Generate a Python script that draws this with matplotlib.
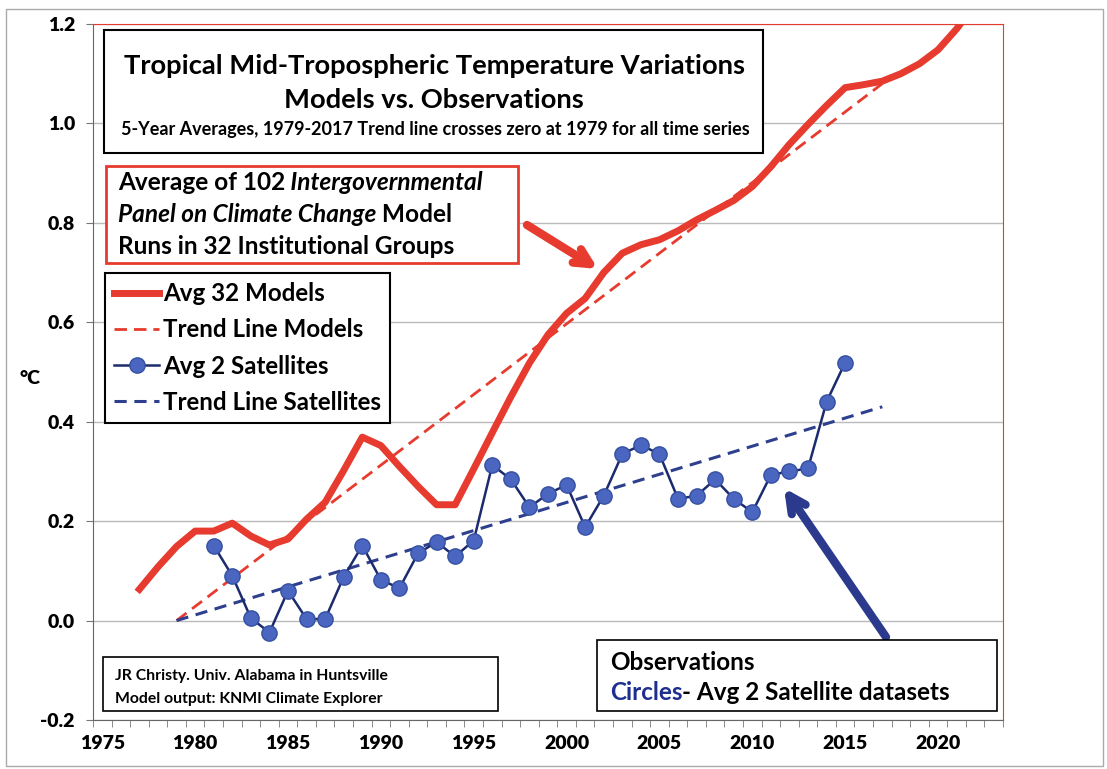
import matplotlib.pyplot as plt
from matplotlib.patches import Rectangle
from matplotlib.lines import Line2D
import numpy as np

plt.rcParams['font.family'] = ['Lato', 'DejaVu Sans']

W, H = 1107, 769

# 5-year averages
model_years = list(range(1977, 2023))
model_vals = [0.063, 0.108, 0.149, 0.180, 0.180, 0.196, 0.170, 0.152, 0.164, 0.204,
              0.238, 0.302, 0.369, 0.352, 0.310, 0.270, 0.233, 0.233, 0.305, 0.378,
              0.450, 0.518, 0.575, 0.618, 0.648, 0.700, 0.739, 0.756, 0.766, 0.784,
              0.806, 0.825, 0.845, 0.873, 0.913, 0.958, 0.998, 1.036, 1.072, 1.078,
              1.085, 1.100, 1.120, 1.148, 1.190, 1.240]

sat_years = list(range(1981, 2016))
sat_vals = [0.151, 0.090, 0.005, -0.024, 0.060, 0.003, 0.003, 0.088, 0.151, 0.082,
            0.065, 0.135, 0.158, 0.129, 0.161, 0.313, 0.284, 0.228, 0.255, 0.273,
            0.188, 0.251, 0.335, 0.353, 0.335, 0.245, 0.251, 0.284, 0.245, 0.218,
            0.293, 0.300, 0.306, 0.440, 0.519]

trend_years = [1979, 2017]
model_trend = [0.0, 1.08]
sat_trend = [0.0, 0.43]

year_labels = list(range(1975, 2021, 5))
y_ticks = [-0.2, 0.0, 0.2, 0.4, 0.6, 0.8, 1.0, 1.2]

RED = '#E63B2E'
BLUE_FILL = '#4A66C0'
NAVY = '#1C2B6E'
BLUE_DASH = '#2E3F8E'


def fx(x):
    return x / W


def fy(y):
    return 1 - y / H


fig = plt.figure(figsize=(W / 100, H / 100), dpi=100)
renderer = fig.canvas.get_renderer()


def fit(t, width):
    w = t.get_window_extent(renderer).width
    t.set_fontsize(t.get_fontsize() * width / w)
    return t.get_fontsize()


ax = fig.add_axes([fx(93), fy(720), (1003 - 93) / W, (720 - 24) / H])

ax.plot(model_years, model_vals, color=RED, lw=5, solid_joinstyle='round', zorder=3)
ax.plot(trend_years, model_trend, color=RED, lw=2, dashes=(4.5, 2.5), zorder=2)
ax.plot(sat_years, sat_vals, color=NAVY, lw=1.8, marker='o', ms=11,
        markerfacecolor=BLUE_FILL, markeredgecolor='#3550A0', markeredgewidth=1, zorder=4)
ax.plot(trend_years, sat_trend, color=BLUE_DASH, lw=2.2, dashes=(4, 2.5), zorder=2)

ax.set_xlim(1974.5, 2023.5)
ax.set_ylim(-0.2, 1.2)
ax.set_yticks(y_ticks)
ax.set_yticklabels([f'{v:.1f}' for v in y_ticks])
ax.set_xticks(year_labels)
ax.set_xticks(np.arange(1974.5, 2024, 1.0), minor=True)
ax.tick_params(axis='x', which='major', length=0, pad=11, labelsize=14)
ax.tick_params(axis='x', which='minor', length=5, color='#777777', direction='out')
ax.tick_params(axis='y', length=5, color='#777777', pad=8, labelsize=14)
for lab in ax.get_xticklabels() + ax.get_yticklabels():
    lab.set_fontweight('heavy')
ax.yaxis.grid(True, color='#BBBBBB', lw=1)
ax.set_axisbelow(True)
ax.spines['top'].set_color(RED)
ax.spines['top'].set_linestyle((0, (1, 1)))
ax.spines['right'].set_color(RED)
ax.spines['left'].set_color('#666666')
ax.spines['bottom'].set_color('#666666')

fig.text(fx(30), fy(378), '°C', fontsize=14, fontweight='heavy', ha='center', va='center')

# outer border of the chart
fig.add_artist(Rectangle((fx(6), fy(766)), (1103 - 6) / W, (766 - 9) / H, fill=False,
                         ec='#AAAAAA', lw=1, transform=fig.transFigure))


def box(x0, y0, x1, y1, ec, lw=1.5):
    ax.add_patch(Rectangle((fx(x0), fy(y1)), (x1 - x0) / W, (y1 - y0) / H, fc='white',
                           ec=ec, lw=lw, transform=fig.transFigure, zorder=5,
                           clip_on=False))


def label(x, y, s, size, **kw):
    kw.setdefault('fontweight', 'bold')
    kw.setdefault('va', 'center')
    return ax.text(fx(x), fy(y), s, fontsize=size, transform=fig.transFigure,
                   zorder=6, **kw)


# title box
box(104, 30, 763, 153, 'black')
fit(label(434, 66, 'Tropical Mid-Tropospheric Temperature Variations', 18, ha='center'), 624)
fit(label(434, 100, 'Models vs. Observations', 18, ha='center'), 300)
fit(label(435, 130, '5-Year Averages, 1979-2017 Trend line crosses zero at 1979 for all time series',
          11, ha='center'), 627)

# red model box
box(106, 166, 518, 263, RED, lw=2)
fs_red = fit(label(118, 258, 'Runs in 32 Institutional Groups', 15, ha='left', va='bottom'), 337)


def chain(parts, x, y):
    s, st = parts[0]
    prev = label(x, y, s, fs_red, style=st, ha='left', va='bottom')
    for s, st in parts[1:]:
        prev = ax.annotate(s, xy=(1, 0), xycoords=prev, fontsize=fs_red, fontweight='bold',
                           style=st, ha='left', va='bottom', zorder=6,
                           annotation_clip=False)


chain([('Average of 102', 'normal'), (' Intergovernmental', 'italic')], 118, 194)
chain([('Panel on Climate Change', 'italic'), (' Model', 'normal')], 118, 226)

# legend
tmp = fig.text(0, 0, 'Trend Line Satellites', fontsize=15, fontweight='bold')
fs_leg = fit(tmp, 219)
tmp.remove()
fpx = fs_leg * 100 / 72
handles = [
    Line2D([], [], color=RED, lw=5),
    Line2D([], [], color=RED, lw=2, dashes=(4.5, 2.5)),
    Line2D([], [], color=NAVY, lw=1.8, marker='o', ms=11, markerfacecolor=BLUE_FILL,
           markeredgecolor='#3550A0'),
    Line2D([], [], color=BLUE_DASH, lw=2.2, dashes=(4, 2.5)),
]
labels = ['Avg 32 Models', 'Trend Line Models', 'Avg 2 Satellites', 'Trend Line Satellites']
leg = ax.legend(handles, labels, loc='upper left', bbox_to_anchor=(fx(105), fy(273)),
                bbox_transform=fig.transFigure, borderaxespad=0, fancybox=False,
                framealpha=1, edgecolor='black', prop={'size': fs_leg, 'weight': 'bold'},
                handlelength=45 / fpx, handletextpad=4 / fpx, borderpad=9 / fpx,
                labelspacing=0.55)
leg.get_frame().set_linewidth(1.5)
leg.set_zorder(6)

# credit box
box(103, 657, 498, 711, 'black', lw=1.2)
fs_cr = fit(label(115, 676, 'JR Christy. Univ. Alabama in Huntsville', 10, ha='left'), 273)
label(115, 699, 'Model output: KNMI Climate Explorer', fs_cr, ha='left')

# observations box
box(597, 640, 997, 711, 'black', lw=1.2)
fs_obs = fit(label(610, 662, 'Observations', 15, ha='left'), 145)
t1 = label(610, 692, 'Circles', fs_obs, ha='left', color='#1F2F8F')
ax.annotate('- Avg 2 Satellite datasets', xy=(1, 0.5), xycoords=t1, fontsize=fs_obs,
            fontweight='bold', ha='left', va='center', zorder=6, annotation_clip=False)

# arrows
ax.annotate('', xy=(598, H - 269), xycoords='figure pixels', xytext=(527, H - 225),
            textcoords='figure pixels',
            arrowprops=dict(arrowstyle='->', lw=6, color=RED, mutation_scale=28,
                            shrinkA=0, shrinkB=0), annotation_clip=False)
ax.annotate('', xy=(784, H - 488), xycoords='figure pixels', xytext=(886, H - 637),
            textcoords='figure pixels',
            arrowprops=dict(arrowstyle='->', lw=6, color='#2B3A8C', mutation_scale=30,
                            shrinkA=0, shrinkB=0), annotation_clip=False)

fig.savefig('out.png', dpi=100)
